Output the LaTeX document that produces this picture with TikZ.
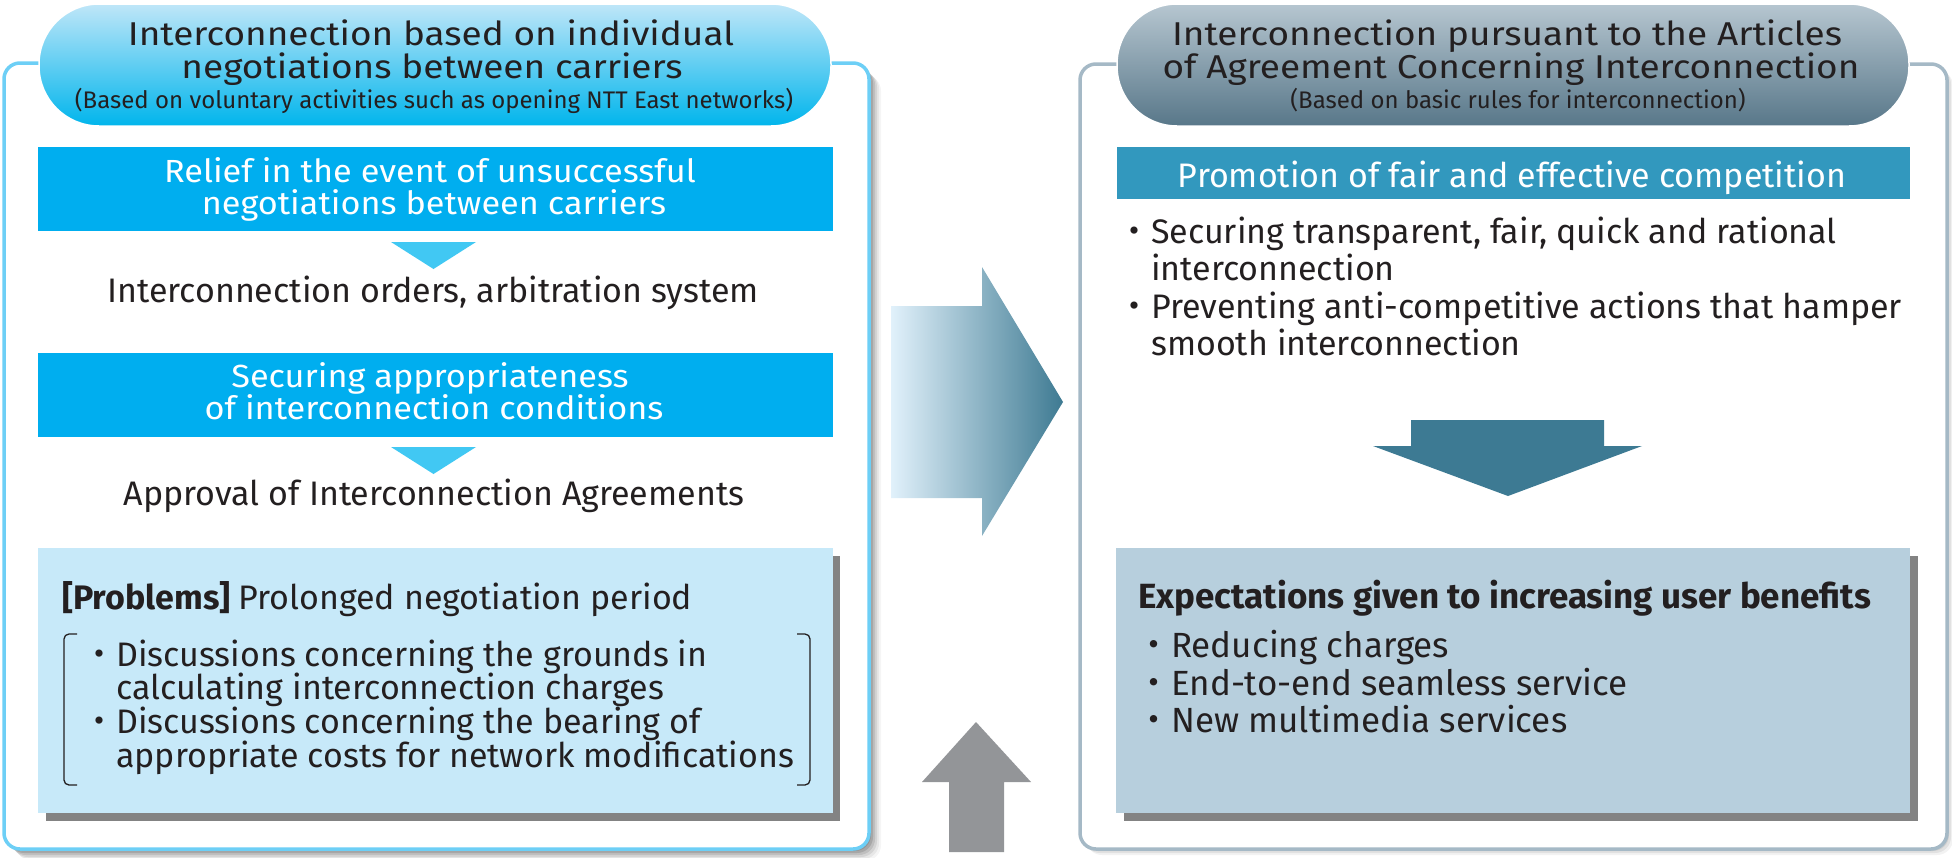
\documentclass[tikz,border=0pt]{standalone}
\usepackage{fontspec}
\setmainfont{Fira Sans}
\newfontfamily\titlefont{Fira Sans}[FakeStretch=1.12]
\newfontfamily\barfont{Fira Sans}[FakeStretch=1.07]
\newfontfamily\cjk{Noto Sans CJK JP}
\definecolor{txt}{HTML}{231F20}
\definecolor{lblue}{HTML}{6DCFF6}
\definecolor{cyanbar}{HTML}{00AEEF}
\definecolor{tri}{HTML}{41C8F3}
\definecolor{probfill}{HTML}{C7E9F9}
\definecolor{shadowg}{HTML}{838383}
\definecolor{rborder}{HTML}{A5B9C6}
\definecolor{tealbar}{HTML}{3298BE}
\definecolor{darkteal}{HTML}{3D7A93}
\definecolor{expfill}{HTML}{B7CFDD}
\definecolor{grayarrow}{HTML}{939598}
\definecolor{lpilltop}{HTML}{BFE6F8}
\definecolor{lpillmid}{HTML}{D9F1FB}
\definecolor{lpillbot}{HTML}{00B5EC}
\definecolor{rpilltop}{HTML}{B6C6D0}
\definecolor{rpillmid}{HTML}{CCD8DF}
\definecolor{rpillbot}{HTML}{587789}
\definecolor{arrowlight}{HTML}{E1F1FB}
\definecolor{arrowdark}{HTML}{3E7A92}
\newcommand\fsz[1]{\fontsize{#1}{#1}\selectfont}
\newcommand\dotb{\llap{{\cjk ・}}}
\begin{document}
\begin{tikzpicture}[x=1pt,y=-1pt,
  t/.style={inner sep=0pt, text=txt, font=\fsz{34}},
  w/.style={inner sep=0pt, text=white, font=\fsz{34}},
  wb/.style={inner sep=0pt, text=white, font=\barfont\fsz{32}},
  ttl/.style={inner sep=0pt, text=txt, font=\titlefont\fsz{33}},
  sub/.style={inner sep=0pt, text=txt, font=\fsz{24}},
  bar/.style={fill=cyanbar},
  tribox/.style={fill=tri},
  shad/.style={fill=shadowg}]
\useasboundingbox (0,0) rectangle (1952,857);

% ---------- left outer box ----------
\foreach \d/\o in {2/0.12,4/0.12,6/0.1,8/0.08,10/0.06,12/0.04}
  \fill[black,opacity=\o,rounded corners=16] (4+\d,63+\d) rectangle (869+\d,849+\d);
\draw[lblue, line width=3.5pt, fill=white, rounded corners=16] (4,63) rectangle (869,849);

% ---------- right outer box ----------
\foreach \d/\o in {2/0.08,4/0.07,6/0.05}
  \fill[black,opacity=\o,rounded corners=16] (1080+\d,64+\d) rectangle (1947+\d,849+\d);
\draw[rborder, line width=3.5pt, fill=white, rounded corners=16] (1080,64) rectangle (1947,849);

% ---------- pills ----------
\path[top color=lpilltop, middle color=lpillmid, bottom color=lpillbot, draw=white, line width=1.5pt, rounded corners=60] (39,4) rectangle (831,126);
\path[top color=rpilltop, middle color=rpillmid, bottom color=rpillbot, draw=white, line width=1.5pt, rounded corners=60] (1117,4) rectangle (1909,126);

\node[ttl, anchor=base] (lt1) at (431,45) {Interconnection based on individual};
\node[ttl, anchor=base] (lt2) at (432,78) {negotiations between carriers};
\node[sub, anchor=base] (lt3) at (434,108) {(Based on voluntary activities such as opening NTT East networks)};

\node[ttl, anchor=base] (rt1) at (1507,45) {Interconnection pursuant to the Articles};
\node[ttl, anchor=base] (rt2) at (1511,78) {of Agreement Concerning Interconnection};
\node[sub, anchor=base] (rt3) at (1518,108) {(Based on basic rules for interconnection)};

% ---------- left column ----------
\fill[bar] (38,147) rectangle (833,231);
\node[wb, anchor=base] (b1a) at (430,182) {Relief in the event of unsuccessful};
\node[wb, anchor=base] (b1b) at (434,214) {negotiations between carriers};
\fill[tribox] (391,242) -- (476,242) -- (433.5,269) -- cycle;
\node[t, anchor=base] (ord) at (433,302) {Interconnection orders, arbitration system};

\fill[bar] (38,353) rectangle (833,437);
\node[wb, anchor=base] (b2a) at (430,387) {Securing appropriateness};
\node[wb, anchor=base] (b2b) at (434,419) {of interconnection conditions};
\fill[tribox] (391,447) -- (476,447) -- (433.5,474) -- cycle;
\node[t, anchor=base] (appr) at (434,505) {Approval of Interconnection Agreements};

\fill[shad] (46,556) rectangle (840,821);
\fill[probfill] (38,548) rectangle (833,813);
\node[t, anchor=base west] (prob) at (62,609) {\bfseries[Problems] \mdseries Prolonged negotiation period};
\draw[txt, line width=1.3pt, rounded corners=5] (77,634) -- (64,634) -- (64,785) -- (77,785);
\draw[txt, line width=1.3pt, rounded corners=5] (797,634) -- (810,634) -- (810,785) -- (797,785);
\node[t, anchor=base west] (p1) at (116,666) {\dotb Discussions concerning the grounds in};
\node[t, anchor=base west] (p2) at (116,699) {calculating interconnection charges};
\node[t, anchor=base west] (p3) at (116,733) {\dotb Discussions concerning the bearing of};
\node[t, anchor=base west] (p4) at (116,767) {appropriate costs for network modifications};

% ---------- middle arrows ----------
\path[left color=arrowlight, right color=arrowdark] (891,306) -- (982,306) -- (982,267) -- (1063,402) -- (982,536) -- (982,498) -- (891,498) -- cycle;
\fill[grayarrow] (976,722) -- (1031,782) -- (1004,782) -- (1004,852) -- (949,852) -- (949,782) -- (922,782) -- cycle;

% ---------- right column ----------
\fill[tealbar] (1117,147) rectangle (1910,199);
\node[w, anchor=base] (prom) at (1512,187) {Promotion of fair and effective competition};
\node[t, anchor=base west] (r1) at (1151,243) {\dotb Securing transparent, fair, quick and rational};
\node[t, anchor=base west] (r2) at (1151,280) {interconnection};
\node[t, anchor=base west] (r3) at (1151,318) {\dotb Preventing anti-competitive actions that hamper};
\node[t, anchor=base west] (r4) at (1151,355) {smooth interconnection};

\fill[darkteal] (1411,420) -- (1604,420) -- (1604,446) -- (1642,446) -- (1508,496) -- (1373,446) -- (1411,446) -- cycle;

\fill[shad] (1124,556) rectangle (1918,821);
\fill[expfill] (1116,548) rectangle (1910,813);
\node[t, anchor=base west, font=\fsz{35}\bfseries] (exp) at (1138,608) {Expectations given to increasing user benefits};
\node[t, anchor=base west, font=\fsz{35}] (e1) at (1171,657) {\dotb Reducing charges};
\node[t, anchor=base west, font=\fsz{35}] (e2) at (1171,695) {\dotb End-to-end seamless service};
\node[t, anchor=base west, font=\fsz{35}] (e3) at (1171,732) {\dotb New multimedia services};
\end{tikzpicture}
\end{document}
